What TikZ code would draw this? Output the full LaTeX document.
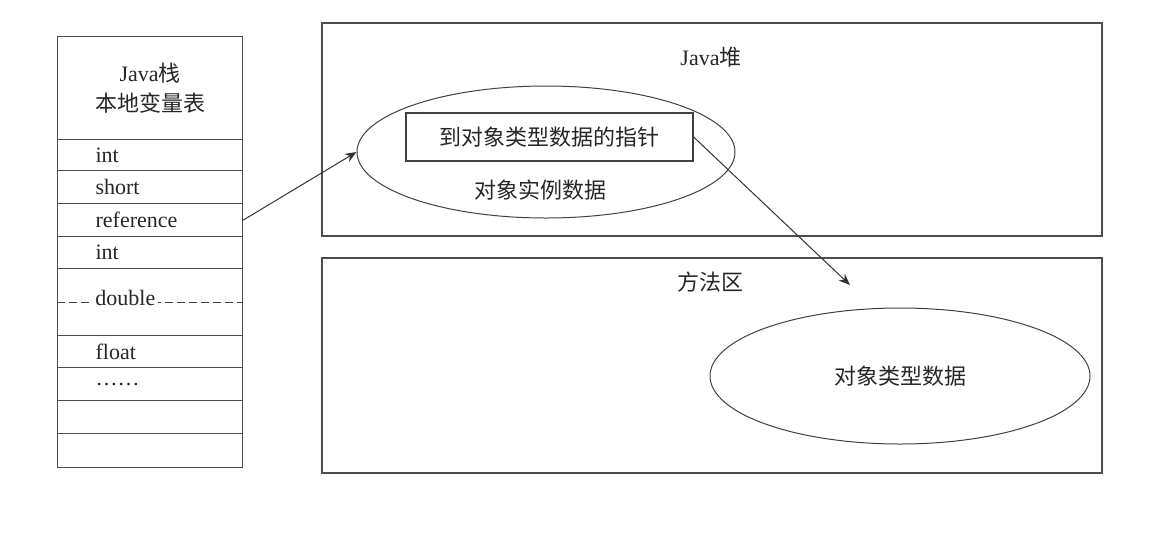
\documentclass[tikz,border=0pt]{standalone}
\usepackage{fontspec}
\setmainfont{Liberation Serif}
\newfontfamily\cjk{Noto Sans CJK SC}
\usepackage{xcolor}
\usetikzlibrary{shapes.geometric, arrows.meta, positioning}

\begin{document}
\begin{tikzpicture}[
    x=0.5pt, y=-0.5pt,
    every node/.style={font=\fontsize{11}{15}\selectfont, text=black!85},
    slot/.style={rectangle, draw=black!70, line width=0.6pt, anchor=north west, minimum width=92.5pt, text width=54.5pt, inner xsep=19pt, inner ysep=0pt, align=left},
    area/.style={rectangle, draw=black!70, line width=0.8pt, anchor=north west, minimum width=390pt},
    blob/.style={ellipse, draw=black!75, line width=0.5pt, inner sep=0pt},
    arrow/.style={-{Stealth[length=2mm, width=1.6mm]}, draw=black!80, line width=0.5pt}
]
\useasboundingbox (0,0) rectangle (1164,532);
% Java stack
\node[slot, minimum height=51.5pt, text width=80pt, inner xsep=6.25pt, align=center] (stack_head) at (57,36) {Java{\cjk 栈}\\{\cjk 本地变量表}};
\foreach \y/\h/\n/\t in {139/31/r_int1/int, 170/33/r_short/short, 203/33/r_ref/reference, 236/32/r_int2/int, 268/67/r_dbl/{}, 335/32/r_float/float, 367/33/r_more/……, 400/33/r_e1/{}, 433/34/r_e2/{}}
    \node[slot, minimum height=\h*0.5pt] (\n) at (57,\y) {\t};
\draw[black!75, line width=0.5pt, dash pattern=on 4pt off 2pt] (r_dbl.west) -- (r_dbl.east);
\node[anchor=west, fill=white, inner xsep=1.5pt, inner ysep=1pt] (dbl_lbl) at ([xshift=17.5pt,yshift=2pt]r_dbl.west) {double};
% heap
\node[area, minimum height=106.5pt] (heap) at (321,22) {};
\node (heap_lbl) at (711,57) {Java{\cjk 堆}};
\node[blob, minimum width=189pt, minimum height=66pt] (obj) at (546,152) {};
\node[rectangle, draw=black!75, line width=0.6pt, minimum width=143.5pt, minimum height=24pt] (ptr) at (549.5,137) {\cjk 到对象类型数据的指针};
\node (obj_lbl) at (540,190) {\cjk 对象实例数据};
% method area
\node[area, minimum height=107.5pt] (method) at (321,257) {};
\node (method_lbl) at (710,282) {\cjk 方法区};
\node[blob, minimum width=190pt, minimum height=68pt] (cls) at (900,376) {\cjk 对象类型数据};
\coordinate (cls_tip) at (850,285);
\draw[arrow] (r_ref.east) -- (obj.west);
\draw[arrow] (ptr.east) -- (cls_tip);
\end{tikzpicture}
\end{document}
